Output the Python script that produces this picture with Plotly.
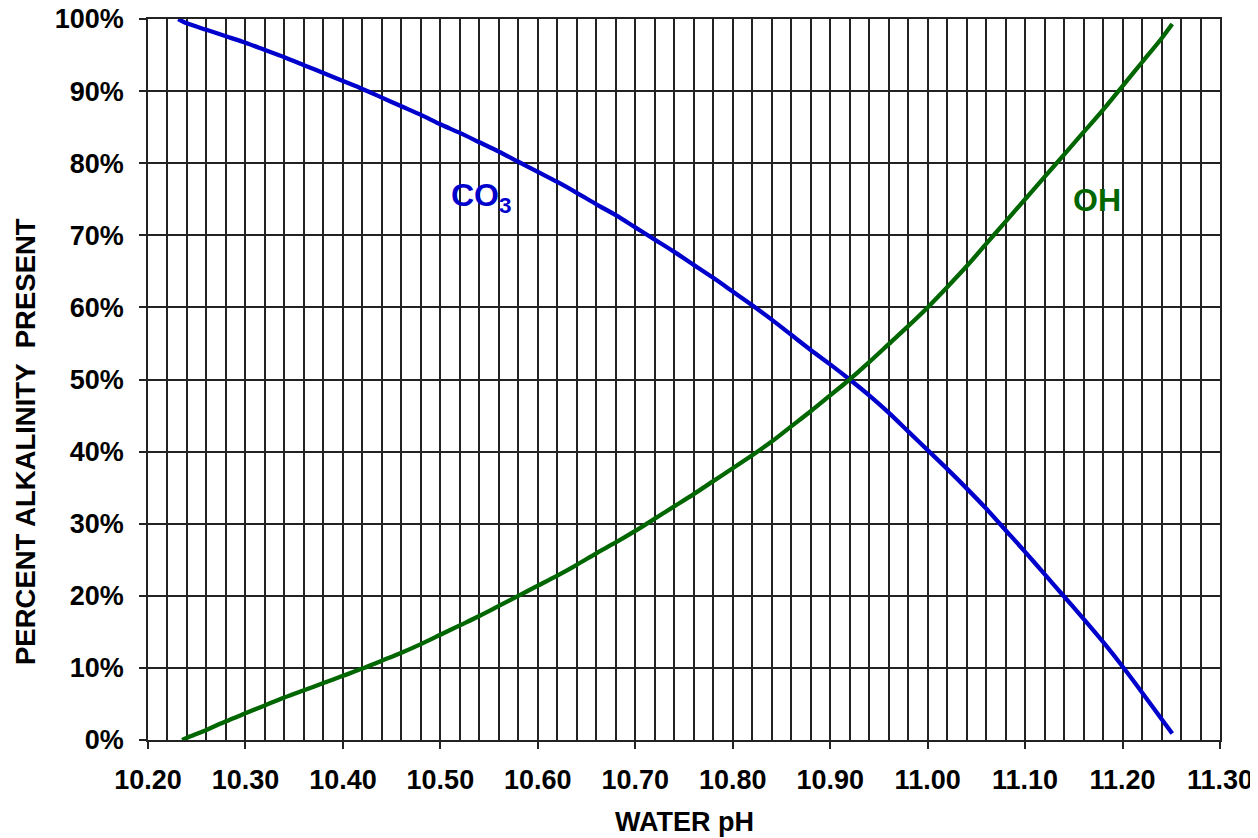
import plotly.graph_objects as go

# ---- data ----
co3_ph = [10.231, 10.24, 10.26, 10.28, 10.30, 10.32, 10.34, 10.36, 10.38, 10.40,
          10.42, 10.44, 10.46, 10.48, 10.50, 10.52, 10.54, 10.56, 10.58, 10.60,
          10.62, 10.64, 10.66, 10.68, 10.70, 10.72, 10.74, 10.76, 10.78, 10.80,
          10.82, 10.84, 10.86, 10.88, 10.90, 10.92, 10.94, 10.96, 10.98, 11.00,
          11.02, 11.04, 11.06, 11.08, 11.10, 11.12, 11.14, 11.16, 11.18, 11.20,
          11.22, 11.24, 11.251]
co3_pct = [100.0, 99.4, 98.5, 97.6, 96.7, 95.7, 94.7, 93.6, 92.5, 91.4,
           90.3, 89.1, 87.9, 86.7, 85.4, 84.2, 82.9, 81.6, 80.2, 78.8,
           77.4, 75.9, 74.3, 72.8, 71.1, 69.4, 67.7, 65.9, 64.1, 62.2,
           60.3, 58.3, 56.2, 54.1, 52.1, 50.0, 47.8, 45.4, 42.8, 40.2,
           37.6, 34.9, 32.1, 29.1, 26.1, 23.0, 19.9, 16.8, 13.6, 10.2,
           6.6, 2.9, 0.9]

oh_ph = [10.235, 10.24, 10.26, 10.28, 10.30, 10.32, 10.34, 10.36, 10.38, 10.40,
         10.42, 10.44, 10.46, 10.48, 10.50, 10.52, 10.54, 10.56, 10.58, 10.60,
         10.62, 10.64, 10.66, 10.68, 10.70, 10.72, 10.74, 10.76, 10.78, 10.80,
         10.82, 10.84, 10.86, 10.88, 10.90, 10.92, 10.94, 10.96, 10.98, 11.00,
         11.02, 11.04, 11.06, 11.08, 11.10, 11.12, 11.14, 11.16, 11.18, 11.20,
         11.22, 11.24, 11.251]
oh_pct = [0.0, 0.3, 1.4, 2.6, 3.7, 4.8, 5.9, 6.9, 7.9, 8.9,
          9.9, 11.0, 12.1, 13.3, 14.6, 15.9, 17.2, 18.6, 20.0, 21.4,
          22.8, 24.3, 25.9, 27.4, 29.0, 30.7, 32.4, 34.1, 35.9, 37.7,
          39.5, 41.4, 43.5, 45.6, 47.8, 50.0, 52.4, 54.9, 57.4, 60.0,
          62.8, 65.7, 68.8, 71.9, 75.0, 78.1, 81.2, 84.3, 87.4, 90.7,
          94.0, 97.3, 99.3]

x_ticks = [10.20, 10.30, 10.40, 10.50, 10.60, 10.70, 10.80, 10.90, 11.00, 11.10, 11.20, 11.30]
y_ticks = [0, 10, 20, 30, 40, 50, 60, 70, 80, 90, 100]

BLUE = "#0000CC"
GREEN = "#006600"
GRID = "#222222"
FONT = "Arial, Liberation Sans, sans-serif"

fig = go.Figure()
fig.add_trace(go.Scatter(x=co3_ph, y=co3_pct, mode="lines", name="CO3",
                         line=dict(color=BLUE, width=4.3, shape="spline", smoothing=0.8)))
fig.add_trace(go.Scatter(x=oh_ph, y=oh_pct, mode="lines", name="OH",
                         line=dict(color=GREEN, width=4.3, shape="spline", smoothing=0.8)))

# the page body adds an 8px offset, so the figure is sized/margined to compensate
fig.update_layout(
    width=1250, height=830,
    margin=dict(l=140, r=38, t=11, b=98, autoexpand=False),
    paper_bgcolor="white", plot_bgcolor="white",
    showlegend=False,
    font=dict(family=FONT, color="black"),
)

fig.update_xaxes(
    range=[10.20, 11.30], tickvals=x_ticks, ticktext=[f"{v:.2f}" for v in x_ticks],
    showgrid=True, gridcolor=GRID, gridwidth=1.5,
    minor=dict(dtick=0.02, tick0=10.20, showgrid=True, gridcolor=GRID, gridwidth=1.5, ticks=""),
    ticks="outside", ticklen=7, tickwidth=1.5, tickcolor=GRID,
    showline=True, linecolor=GRID, linewidth=1.5, mirror=True,
    tickfont=dict(family=FONT, size=27, color="black", weight="bold"),
    ticklabelstandoff=8, automargin=False, ticklabeloverflow="allow",
    zeroline=False,
)
fig.update_yaxes(
    range=[0, 100], tickvals=y_ticks, ticktext=[f"{v}%" for v in y_ticks],
    showgrid=True, gridcolor=GRID, gridwidth=1.5,
    ticks="outside", ticklen=7, tickwidth=1.5, tickcolor=GRID,
    showline=True, linecolor=GRID, linewidth=1.5, mirror=True,
    tickfont=dict(family=FONT, size=27, color="black", weight="bold"),
    ticklabelstandoff=10, automargin=False, ticklabeloverflow="allow",
    zeroline=False,
)

fig.add_annotation(text="<b>CO<sub>3</sub></b>", x=10.509, y=75.2, xref="x", yref="y",
                   xanchor="left", yanchor="middle", showarrow=False,
                   font=dict(family=FONT, size=32, color=BLUE))
fig.add_annotation(text="<b>OH</b>", x=11.147, y=74.9, xref="x", yref="y",
                   xanchor="left", yanchor="middle", showarrow=False,
                   font=dict(family=FONT, size=32, color=GREEN))
fig.add_annotation(text="<b>WATER pH</b>", x=0.5, y=(740 - 822) / 721, xref="paper", yref="paper",
                   xanchor="center", yanchor="middle", showarrow=False,
                   font=dict(family=FONT, size=27, color="black"))
fig.add_annotation(text="<b>PERCENT ALKALINITY\u00a0\u00a0PRESENT</b>", x=(25 - 148) / 1072, y=(740 - 442) / 721,
                   xref="paper", yref="paper", textangle=-90,
                   xanchor="center", yanchor="middle", showarrow=False,
                   font=dict(family=FONT, size=27.5, color="black"))

fig.write_html("out.html")
